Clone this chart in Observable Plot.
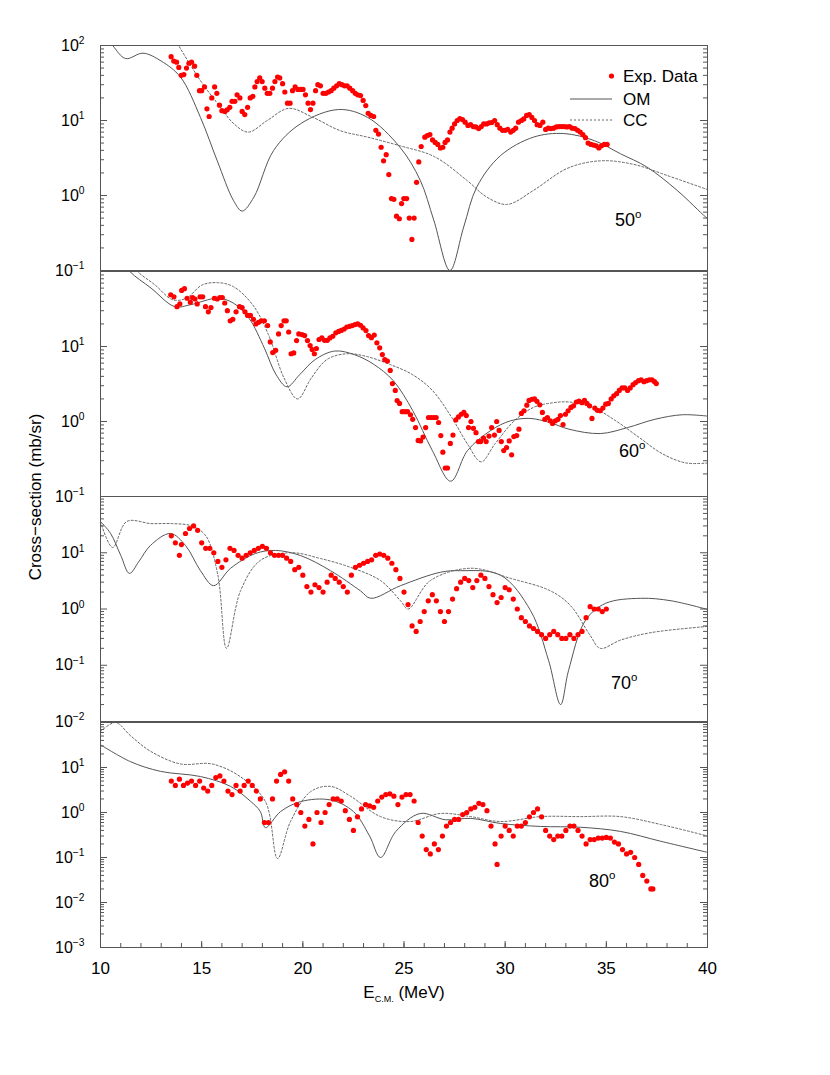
<!DOCTYPE html>
<html><head><meta charset="utf-8">
<script src="https://cdn.jsdelivr.net/npm/d3@7"></script>
<script src="https://cdn.jsdelivr.net/npm/@observablehq/plot@0.6"></script>
<style>
body{margin:0;background:#fff;font-family:"Liberation Sans",Arial,sans-serif;}
#wrap{position:relative;width:830px;height:1075px;overflow:hidden;}
#wrap svg{position:absolute;left:0;}
</style></head><body><div id="wrap"></div>
<script>
// ---------- 50 degrees ----------
const exp50 = [[13.49,71],[13.62,62],[13.76,60],[13.87,51],[13.99,40],[14.12,41],[14.25,50],[14.37,58],[14.5,60],[14.65,53],[14.76,40],[14.89,25],[15.0,25],[15.14,28],[15.26,14.3],[15.37,11.3],[15.5,20],[15.64,28],[15.75,23],[15.88,16],[16.0,13.5],[16.15,13.2],[16.26,13.9],[16.39,15],[16.5,18],[16.64,18],[16.75,22],[16.89,20],[17.0,13.2],[17.13,12],[17.27,15],[17.4,20],[17.53,21],[17.63,28],[17.74,33],[17.87,37],[17.99,33],[18.12,27],[18.24,23],[18.37,23],[18.5,27],[18.62,33],[18.75,38],[18.86,37],[19.0,31],[19.11,24],[19.24,17],[19.37,17],[19.49,25],[19.62,28],[19.75,26],[19.89,26],[20.01,26],[20.13,22],[20.26,17],[20.38,14],[20.5,17],[20.63,25],[20.74,30],[20.87,29],[21.0,23],[21.14,23],[21.27,24],[21.4,25],[21.53,27],[21.67,29],[21.8,31],[21.93,30],[22.06,29],[22.19,29],[22.32,27],[22.46,25],[22.59,23],[22.71,22],[22.85,21.5],[22.98,18.5],[23.11,15.8],[23.23,12.5],[23.36,11.7],[23.5,11.3],[23.61,7.4],[23.74,6.6],[23.87,4.4],[23.99,2.9],[24.12,3.5],[24.25,1.9],[24.38,0.91],[24.5,0.89],[24.63,0.53],[24.77,0.49],[24.88,0.78],[24.99,0.91],[25.13,0.91],[25.26,0.5],[25.39,0.26],[25.5,0.5],[25.62,1.5],[25.73,2.8],[25.85,4.5],[26.03,6.0],[26.15,6.3],[26.28,6.5],[26.41,5.5],[26.54,5.1],[26.67,4.8],[26.8,4.3],[26.92,4.4],[27.03,5.1],[27.15,5.5],[27.27,7.0],[27.38,7.9],[27.5,9.0],[27.63,10],[27.76,10.6],[27.89,10.3],[28.02,9.5],[28.16,8.6],[28.29,8.8],[28.42,8.3],[28.55,8.2],[28.69,7.8],[28.82,8.3],[28.94,9.0],[29.08,9.0],[29.21,9.3],[29.34,9.4],[29.48,10],[29.61,8.8],[29.74,7.9],[29.87,7.4],[30.0,7.4],[30.13,7.6],[30.27,7.0],[30.4,7.4],[30.52,7.9],[30.66,9.5],[30.8,10],[30.92,10.5],[31.06,11.7],[31.19,12],[31.32,11],[31.45,10],[31.58,8.8],[31.72,8.6],[31.86,9.5],[32.0,7.6],[32.13,7.9],[32.26,7.8],[32.39,7.9],[32.53,8.2],[32.66,8.3],[32.79,8.3],[32.92,8.3],[33.05,8.2],[33.18,8.3],[33.31,7.9],[33.45,7.8],[33.58,7.4],[33.71,7.0],[33.84,6.5],[33.97,5.9],[34.1,5.0],[34.24,4.8],[34.37,4.7],[34.5,4.6],[34.63,4.3],[34.76,4.6],[34.9,4.8],[35.04,4.8]];
const om50 = [[10,160],[10.6,100],[11.24,67],[12.1,79],[13.0,62],[13.95,38],[14.94,11],[15.77,2.9],[16.58,0.85],[17.0,0.62],[17.58,0.95],[18.56,4],[19.9,9.1],[21.76,14],[23.2,11],[24.8,4.4],[25.8,1.6],[26.47,0.47],[27.27,0.1],[27.95,0.38],[28.6,1.3],[29.77,3.4],[31.4,6.0],[32.9,6.7],[34.4,5.4],[35.7,3.6],[37.0,2.4],[38.5,1.17],[39.9,0.52],[40,0.5]];
const cc50 = [[13.0,250],[13.86,100],[14.94,34],[15.93,15],[16.58,9.1],[17.3,7.0],[18.24,10],[19.3,14.5],[20.5,11],[21.86,7.3],[23.2,6],[24.8,4.6],[26.5,3.3],[28.1,1.6],[29.1,0.95],[30.1,0.76],[31.4,1.17],[33.07,2.3],[34.7,2.9],[36.35,2.6],[38.0,1.85],[40,1.2]];

// ---------- 60 degrees ----------
const exp60 = [[13.47,49],[13.63,46],[13.78,34],[13.92,37],[14.01,56],[14.15,59],[14.28,44],[14.44,39],[14.55,45],[14.67,43],[14.78,37],[14.92,46],[15.05,46],[15.19,34],[15.33,29],[15.46,33],[15.63,44],[15.77,43],[15.9,45],[16.02,45],[16.14,38],[16.27,30],[16.41,22],[16.54,23],[16.7,29],[16.87,34],[17.0,33],[17.14,29],[17.27,26],[17.41,26],[17.56,23],[17.68,20],[17.81,21],[17.95,22],[18.1,22],[18.26,19],[18.39,11.5],[18.51,8.3],[18.66,8.9],[18.8,14.7],[18.93,19],[19.07,22],[19.18,22],[19.3,15.6],[19.42,8.0],[19.55,8.2],[19.69,12],[19.8,14.7],[19.96,14.4],[20.09,14],[20.23,12],[20.36,10.3],[20.46,9.1],[20.57,8.0],[20.67,9.4],[20.8,12.4],[20.94,13],[21.07,12.1],[21.21,12.1],[21.34,13],[21.48,13.7],[21.63,15.2],[21.77,15.9],[21.9,16.4],[22.04,17.1],[22.17,18.2],[22.31,18.6],[22.44,19],[22.58,19.6],[22.71,20],[22.85,19.2],[22.98,17.7],[23.12,16.3],[23.25,14],[23.39,13.1],[23.53,14.2],[23.66,11.2],[23.8,9.6],[23.93,7.8],[24.05,6.7],[24.18,6.4],[24.32,4.8],[24.43,3.2],[24.57,2.6],[24.66,1.9],[24.78,1.74],[24.91,1.35],[25.05,1.35],[25.18,1.35],[25.32,1.23],[25.43,1.07],[25.57,0.83],[25.7,0.56],[25.82,0.55],[25.94,0.62],[26.07,0.83],[26.21,1.13],[26.34,1.13],[26.48,1.13],[26.59,1.13],[26.71,0.97],[26.82,0.65],[26.92,0.39],[27.04,0.24],[27.15,0.24],[27.29,0.51],[27.42,0.66],[27.56,1.05],[27.69,1.15],[27.83,1.25],[27.96,1.32],[28.08,1.2],[28.19,0.83],[28.31,1.0],[28.43,0.81],[28.56,0.71],[28.68,0.54],[28.79,0.54],[28.93,0.6],[29.06,0.54],[29.2,0.64],[29.33,0.83],[29.47,0.66],[29.58,1.0],[29.7,0.76],[29.81,0.54],[29.93,0.41],[30.07,0.45],[30.2,0.55],[30.32,0.36],[30.43,0.63],[30.57,0.65],[30.68,0.79],[30.8,1.28],[30.93,1.39],[31.07,1.65],[31.18,1.91],[31.32,1.98],[31.45,2.0],[31.57,1.86],[31.71,1.67],[31.84,1.32],[31.96,1.07],[32.09,1.13],[32.23,1.02],[32.34,0.94],[32.48,1.02],[32.61,1.07],[32.73,1.2],[32.86,0.91],[32.98,1.25],[33.11,1.39],[33.25,1.54],[33.38,1.62],[33.52,1.82],[33.65,1.87],[33.79,1.78],[33.92,1.91],[34.04,1.74],[34.17,1.62],[34.29,1.1],[34.43,1.51],[34.56,1.41],[34.7,1.39],[34.83,1.51],[34.97,1.7],[35.1,1.74],[35.24,2.0],[35.37,2.2],[35.51,2.35],[35.64,2.6],[35.78,2.8],[35.91,2.8],[36.05,2.6],[36.18,2.8],[36.32,3.1],[36.45,3.3],[36.59,3.5],[36.72,3.6],[36.86,3.4],[36.99,3.5],[37.13,3.6],[37.26,3.6],[37.38,3.4],[37.47,3.2]];
const om60 = [[11.0,150],[11.45,100],[12.5,60],[13.67,34],[14.44,36],[15.79,44],[16.56,38],[17.33,24],[18.1,9.5],[18.68,4.2],[19.22,2.9],[19.84,4.2],[20.61,6.7],[21.58,8.7],[22.54,7.8],[23.5,5.8],[24.47,3.5],[25.43,1.4],[26.4,0.41],[27.31,0.16],[28.14,0.41],[29.29,0.76],[30.26,1.02],[31.22,1.1],[32.19,0.97],[33.15,0.79],[34.7,0.69],[36.05,0.83],[37.4,1.07],[38.75,1.23],[40,1.18]];
const cc60 = [[11.3,150],[11.83,100],[12.7,66],[13.57,42],[14.24,44],[15.02,66],[15.79,71],[16.56,63],[17.52,36],[18.3,14.4],[19.07,3.8],[19.74,2.0],[20.42,3.8],[21.19,6.7],[22.15,8.0],[23.12,7.4],[24.28,5.8],[25.43,4.2],[26.4,2.6],[27.36,1.13],[28.14,0.5],[28.81,0.29],[29.49,0.5],[30.45,1.02],[31.42,1.55],[32.38,1.78],[33.15,1.82],[34.31,1.55],[35.47,1.02],[36.63,0.61],[37.78,0.37],[38.94,0.28],[40,0.28]];

// ---------- 70 degrees ----------
const exp70 = [[13.5,20],[13.7,15],[13.9,9],[14.0,14],[14.2,22],[14.4,27],[14.6,30],[14.8,25],[15.0,15],[15.2,12],[15.4,12],[15.6,10],[15.8,7],[16.0,5.5],[16.2,7.5],[16.4,12],[16.6,11],[16.8,9],[17.0,8],[17.2,9],[17.4,10],[17.6,11],[17.8,12],[18.0,13],[18.2,12],[18.4,10],[18.6,9],[18.8,9],[19.0,9],[19.2,8],[19.4,7],[19.6,5],[19.8,5.5],[20.0,4],[20.2,2.5],[20.4,2],[20.6,2.7],[20.8,2.4],[21.0,2],[21.2,3],[21.4,4],[21.6,3.5],[21.8,3],[22.0,2.5],[22.2,2],[22.4,4],[22.6,5.5],[22.8,6],[23.0,6.5],[23.2,7],[23.4,7.5],[23.6,9],[23.8,9.5],[24.0,9],[24.2,8],[24.4,6.5],[24.6,5],[24.8,3.5],[25.0,2],[25.2,1.2],[25.4,0.5],[25.6,0.4],[25.8,0.6],[26.0,0.9],[26.2,1.4],[26.4,1.8],[26.6,1.4],[26.8,0.9],[27.0,0.6],[27.2,0.9],[27.4,1.5],[27.6,2.3],[27.8,3],[28.0,3.5],[28.2,3.2],[28.4,2.4],[28.6,3.2],[28.8,4],[29.0,3.5],[29.2,2.5],[29.4,1.8],[29.6,1.3],[29.8,1.6],[30.0,2.4],[30.2,2.2],[30.4,1.5],[30.6,1],[30.8,0.7],[31.0,0.6],[31.2,0.5],[31.4,0.45],[31.6,0.4],[31.8,0.35],[32.0,0.3],[32.2,0.35],[32.4,0.4],[32.6,0.35],[32.8,0.3],[33.0,0.3],[33.2,0.35],[33.4,0.3],[33.6,0.35],[33.8,0.4],[34.0,0.7],[34.2,1.1],[34.4,1.0],[34.6,1.0],[34.8,0.9],[35.0,1.0]];
const om70 = [[10,36],[10.5,22],[11.0,9],[11.43,4.3],[11.9,7],[12.47,13.5],[13.46,22],[14.2,13.5],[14.94,4.8],[15.59,2.6],[16.43,5.3],[17.66,9.7],[18.65,11],[19.89,8.9],[21.37,4.8],[22.85,2.1],[23.35,1.55],[24.83,2.6],[26.8,4.5],[27.8,4.8],[29.77,4.0],[31.26,0.93],[32.15,0.12],[32.74,0.02],[33.13,0.08],[33.97,0.63],[34.96,1.26],[36.7,1.55],[38.2,1.4],[40,0.98]];
const cc70 = [[10,36],[10.6,12.4],[11.3,36],[12.5,33],[13.5,33],[14.5,30],[15.2,20],[15.8,4],[16.23,0.2],[16.92,2.1],[17.9,7.3],[19.4,10],[20.87,7.9],[22.36,5.5],[23.84,3.2],[24.83,1.4],[25.2,1.0],[26.3,3.2],[28.3,5.3],[30.27,3.5],[32.24,2.1],[33.23,1.15],[34.2,0.34],[34.7,0.2],[35.7,0.28],[37.2,0.38],[40,0.49]];

// ---------- 80 degrees ----------
const exp80 = [[13.5,5],[13.7,4],[13.9,5.5],[14.1,4],[14.3,4.5],[14.5,5],[14.7,4],[14.9,5],[15.1,3.5],[15.3,3],[15.5,4],[15.7,6],[15.9,6.5],[16.1,5],[16.3,3],[16.5,2.5],[16.7,4],[16.9,3],[17.1,4],[17.3,5],[17.5,4],[17.7,3],[17.9,2],[18.1,0.6],[18.3,0.6],[18.5,2],[18.7,5],[18.9,7],[19.1,8],[19.3,5],[19.5,2],[19.7,1.5],[19.9,1],[20.1,0.5],[20.3,0.7],[20.5,0.2],[20.7,1.0],[20.9,0.6],[21.1,1.0],[21.3,1.5],[21.5,2],[21.7,2],[21.9,1.8],[22.1,1.1],[22.3,0.7],[22.5,0.4],[22.7,0.8],[22.9,1.2],[23.1,1.5],[23.3,1.4],[23.5,1.3],[23.7,1.8],[23.9,2.2],[24.1,2.5],[24.3,2.6],[24.5,2.3],[24.7,1.5],[24.9,2.2],[25.1,2.5],[25.3,2.5],[25.5,1.8],[25.7,0.6],[25.9,0.3],[26.1,0.15],[26.3,0.12],[26.5,0.2],[26.7,0.15],[26.9,0.3],[27.1,0.5],[27.3,0.6],[27.5,0.7],[27.7,0.7],[27.9,0.9],[28.1,1.0],[28.3,1.2],[28.5,1.3],[28.7,1.6],[28.9,1.5],[29.1,1.1],[29.3,0.5],[29.5,0.2],[29.6,0.07],[29.8,0.3],[30.0,0.5],[30.2,0.4],[30.4,0.3],[30.6,0.5],[30.8,0.5],[31.0,0.6],[31.2,0.8],[31.4,1.0],[31.6,1.2],[31.8,0.8],[32.0,0.4],[32.2,0.3],[32.4,0.25],[32.6,0.3],[32.8,0.3],[33.0,0.4],[33.2,0.5],[33.4,0.5],[33.6,0.4],[33.8,0.3],[34.0,0.2],[34.2,0.25],[34.4,0.25],[34.6,0.27],[34.8,0.27],[35.0,0.28],[35.2,0.27],[35.4,0.22],[35.6,0.2],[35.8,0.15],[36.0,0.12],[36.2,0.13],[36.4,0.1],[36.6,0.07],[36.8,0.04],[37.0,0.03],[37.2,0.02],[37.3,0.02]];
const om80 = [[10,32],[11.48,13.5],[12.97,8.2],[14.94,6.3],[16.43,3.8],[17.4,1.8],[17.9,1.05],[18.15,0.46],[18.9,1.05],[19.9,1.75],[21.37,1.9],[22.5,1.05],[23.3,0.3],[23.84,0.1],[24.6,0.38],[25.8,0.95],[27.05,0.69],[28.3,0.74],[29.77,0.57],[31.75,0.49],[33.73,0.47],[35.7,0.38],[37.68,0.23],[40,0.13]];
const cc80 = [[10,63],[10.74,100],[11.5,50],[12.47,23],[13.95,12],[15.5,12],[16.9,6.3],[18.15,1.75],[18.75,0.095],[19.39,0.63],[20.38,2.9],[21.37,3.8],[22.36,2.3],[23.84,0.81],[25.3,0.63],[26.8,0.95],[28.3,0.81],[29.77,0.63],[31.75,0.81],[33.73,0.81],[35.7,0.81],[37.7,0.54],[40,0.3]];

// ---------- axes ----------
const xDomain = [10, 40];
const xMajorTicks = [10, 15, 20, 25, 30, 35, 40];
const xMinorTicks = d3.range(10, 41, 1);
const panelExp = [[-1, 2], [-1, 2], [-2, 2], [-3, 2]];           // decade range of each panel
const panelLabelExp = [[-1, 0, 1, 2], [-1, 0, 1], [-2, -1, 0, 1], [-3, -2, -1, 0, 1]];
const angleLabels = ["50^o", "60^o", "70^o", "80^o"];
const legendLabels = ["Exp. Data", "OM", "CC"];

const FONT = "'Liberation Sans', Arial, Helvetica, sans-serif";
const ML = 100, MR = 123, W = 830, PH = 225;
const FW = W - ML - MR;
const tops = [45, 270.5, 496, 721.5];
const labelOffsets = [[-66, -45], [-62, -40], [-70, -33], [-92, -61]];
const series = [[exp50, om50, cc50], [exp60, om60, cc60], [exp70, om70, cc70], [exp80, om80, cc80]];
const wrap = document.getElementById("wrap");

function supify(svg) {
  d3.select(svg).selectAll("text").each(function () {
    if (this.children.length) return;
    const t = this.textContent;
    if (!t.includes("^")) return;
    const [base, sup] = t.split("^");
    this.textContent = base;
    d3.select(this).append("tspan").attr("dy", "-0.62em").attr("font-size", "0.64em").text(sup);
  });
}

series.forEach(([ex, om, cc], i) => {
  const last = i === series.length - 1;
  const mt = 20, mb = last ? 80 : 20;
  const [lo, hi] = panelExp[i];
  const majors = d3.range(lo, hi + 1).map(e => Math.pow(10, e));
  const minors = [];
  for (let e = lo; e < hi; e++) for (let m = 2; m <= 9; m++) minors.push(m * Math.pow(10, e));
  const labels = panelLabelExp[i].map(e => Math.pow(10, e));
  const marks = [
    Plot.line(om, {x: d => d[0], y: d => d[1], stroke: "#555", strokeWidth: 1, curve: "catmull-rom", clip: true}),
    Plot.line(cc, {x: d => d[0], y: d => d[1], stroke: "#666", strokeWidth: 1, strokeDasharray: "2,2", curve: "catmull-rom", clip: true}),
    Plot.dot(ex, {x: d => d[0], y: d => d[1], r: 2.6, fill: "#ff0000", stroke: "none", clip: true}),
    Plot.frame({stroke: "#555", strokeWidth: 1}),
    Plot.tickY(majors, {y: d => d, insetRight: FW - 7, stroke: "#555"}),
    Plot.tickY(majors, {y: d => d, insetLeft: FW - 7, stroke: "#555"}),
    Plot.tickY(minors, {y: d => d, insetRight: FW - 4, stroke: "#555"}),
    Plot.tickY(minors, {y: d => d, insetLeft: FW - 4, stroke: "#555"}),
    Plot.axisY(labels, {tickSize: 0, tickPadding: 16, fontSize: 16, fill: "#000",
      tickFormat: d => "10^" + String(Math.round(Math.log10(d))).replace("-", "\u2212")}),
    Plot.text([angleLabels[i]], {text: d => d, frameAnchor: "bottom-right", textAnchor: "end", lineAnchor: "bottom",
      dx: labelOffsets[i][0], dy: labelOffsets[i][1], fontSize: 18, fill: "#000"})
  ];
  if (last) {
    marks.push(
      Plot.tickX(xMinorTicks, {x: d => d, insetTop: PH - 4, stroke: "#555"}),
      Plot.tickX(xMajorTicks, {x: d => d, insetTop: PH - 6, stroke: "#555"}),
      Plot.axisX(xMajorTicks, {tickSize: 0, tickPadding: 14, fontSize: 17, fill: "#000", tickFormat: d => String(d)})
    );
  }
  const svg = Plot.plot({
    width: W, height: PH + mt + mb,
    marginLeft: ML, marginRight: MR, marginTop: mt, marginBottom: mb,
    x: {domain: xDomain, axis: last ? undefined : null},
    y: {type: "log", domain: [Math.pow(10, lo), Math.pow(10, hi)]},
    style: {background: "transparent", overflow: "visible", fontFamily: FONT, color: "#000"},
    marks
  });
  svg.style.top = (tops[i] - mt) + "px";
  supify(svg);
  wrap.appendChild(svg);
});

// ---------- titles and legend overlay ----------
const ov = d3.select(wrap).append("svg").attr("width", W).attr("height", 1075)
  .style("top", "0px").style("font-family", FONT).style("pointer-events", "none");
ov.append("text").attr("transform", "translate(41,497) rotate(-90)").attr("text-anchor", "middle")
  .attr("font-size", 17).text("Cross\u2212section (mb/sr)");
const xt = ov.append("text").attr("x", 404).attr("y", 998).attr("text-anchor", "middle").attr("font-size", 17);
xt.append("tspan").text("E");
xt.append("tspan").attr("dy", 4).attr("font-size", 9).text("C.M.");
xt.append("tspan").attr("dy", -4).text(" (MeV)");

const lg = ov.append("g");
lg.append("circle").attr("cx", 611.5).attr("cy", 76).attr("r", 2.6).attr("fill", "#ff0000");
lg.append("line").attr("x1", 570).attr("x2", 612).attr("y1", 99).attr("y2", 99).attr("stroke", "#555");
lg.append("line").attr("x1", 570).attr("x2", 612).attr("y1", 120).attr("y2", 120).attr("stroke", "#666").attr("stroke-dasharray", "2,2");
legendLabels.forEach((t, k) => {
  lg.append("text").attr("x", 623).attr("y", [76, 99, 120][k]).attr("dy", "0.36em").attr("font-size", 17).text(t);
});
</script></body></html>
